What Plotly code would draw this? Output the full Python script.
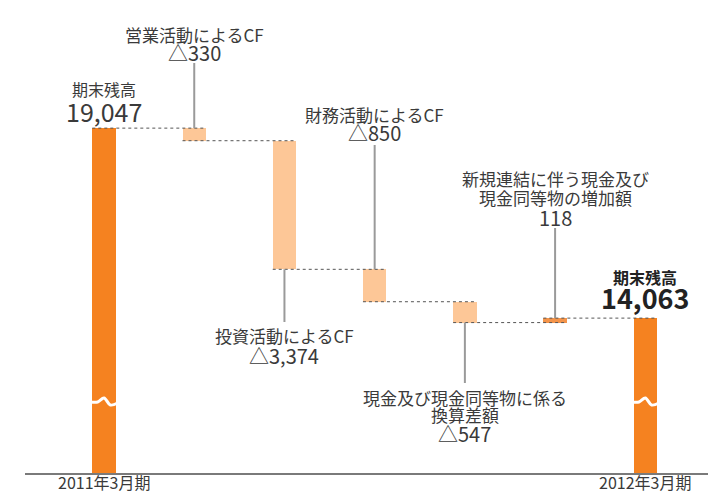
import plotly.graph_objects as go

# ---------------- data ----------------
categories = ["2011年3月期", "営業活動によるCF", "投資活動によるCF", "財務活動によるCF",
              "現金及び現金同等物に係る換算差額", "新規連結に伴う現金及び現金同等物の増加額", "2012年3月期"]
opening = 19047
changes = [-330, -3374, -850, -547, 118]
closing = 14063
change_label_lines = [
    ["営業活動によるCF"],
    ["投資活動によるCF"],
    ["財務活動によるCF"],
    ["現金及び現金同等物に係る", "換算差額"],
    ["新規連結に伴う現金及び", "現金同等物の増加額"],
]
total_title = "期末残高"
period_labels = ["2011年3月期", "2012年3月期"]

# ---------------- layout constants ----------------
W, H = 708, 493
ML, MB = 25, 20
PH = H - MB                  # plot area height in px
Y_MIN = 10000
PX_PER_UNIT = 0.03812
Y_MAX = Y_MIN + PH / PX_PER_UNIT
X_RANGE = [-0.876, 6.695]
BW = 0.26

DARK = "#F58220"
LIGHT = "#FDC797"
UP = "#F4944A"
TXT = "#3a3a3a"
FONT = "Noto Sans CJK JP"


def px_to_y(p):
    return Y_MAX - p / PH * (Y_MAX - Y_MIN)


def px_to_paper(p):
    return (PH - p) / PH


# ---------------- bars ----------------
xs = list(range(len(categories)))
bases, heights, colors = [], [], []
levels_after = []
bases.append(Y_MIN); heights.append(opening - Y_MIN); colors.append(DARK)
level = opening
levels_after.append(level)
for c in changes:
    new = level + c
    bases.append(min(level, new))
    heights.append(abs(c))
    colors.append(UP if c > 0 else LIGHT)
    level = new
    levels_after.append(level)
bases.append(Y_MIN); heights.append(closing - Y_MIN); colors.append(DARK)

fig = go.Figure()
fig.add_trace(go.Bar(x=xs, y=heights, base=bases, width=BW,
                     marker=dict(color=colors, line=dict(width=0)),
                     hoverinfo="skip", showlegend=False))

# connectors (dotted)
for i in range(len(categories) - 1):
    lv = closing if i == len(categories) - 2 else levels_after[i]
    fig.add_trace(go.Scatter(x=[xs[i] - BW / 2, xs[i + 1] + BW / 2], y=[lv, lv],
                             mode="lines", line=dict(color="#555555", width=1, dash="dot"),
                             hoverinfo="skip", showlegend=False))

# ---------------- labels for change bars ----------------
# (above?, line end px, [text centre px ...], value centre px)
label_pos = [
    (True, 63, [34], 52),
    (False, 322, [335.5], 355),
    (True, 145, [114.5], 132),
    (False, 383, [397, 414.5], 433),
    (True, 228, [179, 198], 217),
]
annotations = []
for k, c in enumerate(changes):
    i = k + 1
    above, lend, tcent, vcent = label_pos[k]
    top = bases[i] + heights[i]
    bot = bases[i]
    ys = [top, px_to_y(lend)] if above else [bot, px_to_y(lend)]
    fig.add_trace(go.Scatter(x=[xs[i], xs[i]], y=ys, mode="lines",
                             line=dict(color="#9a9a9a", width=2),
                             hoverinfo="skip", showlegend=False))
    for line, pc in zip(change_label_lines[k], tcent):
        annotations.append(dict(x=xs[i], y=px_to_paper(pc), xref="x", yref="paper",
                                text=line, showarrow=False, xanchor="center", yanchor="middle",
                                borderpad=0,
                                font=dict(family=FONT, size=17, color=TXT)))
    vtxt = ("△" if c < 0 else "") + f"{abs(c):,}"
    annotations.append(dict(x=xs[i], y=px_to_paper(vcent), xref="x", yref="paper",
                            text=vtxt, showarrow=False, xanchor="center", yanchor="middle",
                            borderpad=0,
                            font=dict(family=FONT, size=20, color=TXT)))

# totals labels
annotations.append(dict(x=xs[0], y=px_to_paper(88.7), xref="x", yref="paper", text=total_title,
                        showarrow=False, xanchor="center", yanchor="middle", borderpad=0,
                        font=dict(family=FONT, size=16, color=TXT)))
annotations.append(dict(x=xs[0], y=px_to_paper(111), xref="x", yref="paper", text=f"{opening:,}",
                        showarrow=False, xanchor="center", yanchor="middle", borderpad=0,
                        font=dict(family=FONT, size=25, color=TXT)))
annotations.append(dict(x=xs[-1], y=px_to_paper(276.5), xref="x", yref="paper",
                        text=f"<b>{total_title}</b>", borderpad=0,
                        showarrow=False, xanchor="center", yanchor="middle",
                        font=dict(family=FONT, size=16, color="#222222")))
annotations.append(dict(x=xs[-1], y=px_to_paper(297), xref="x", yref="paper",
                        text=f"<b>{closing:,}</b>", borderpad=0,
                        showarrow=False, xanchor="center", yanchor="middle",
                        font=dict(family=FONT, size=27, color="#222222")))

# period (x tick) labels
for i, lab in zip((xs[0], xs[-1]), period_labels):
    annotations.append(dict(x=i, y=px_to_paper(481.5), xref="x", yref="paper", text=lab,
                            showarrow=False, xanchor="center", yanchor="middle", borderpad=0,
                            font=dict(family=FONT, size=16, color=TXT)))

# wavy break marks on the total bars
wave_dx = [-0.15, -0.07, 0.0, 0.07, 0.15]
wave_py = [402, 402, 398, 405, 403]
for i in (xs[0], xs[-1]):
    fig.add_trace(go.Scatter(x=[i + d for d in wave_dx], y=[px_to_y(p) for p in wave_py],
                             mode="lines", line=dict(color="white", width=3, shape="spline"),
                             hoverinfo="skip", showlegend=False))

fig.update_layout(
    width=W, height=H,
    margin=dict(l=ML, r=0, t=0, b=MB, autoexpand=False),
    paper_bgcolor="white", plot_bgcolor="white",
    annotations=annotations,
    bargap=0,
    xaxis=dict(range=X_RANGE, showticklabels=False, automargin=False,
               showgrid=False, zeroline=False, showline=True, linecolor="#7a7a7a", linewidth=2,
               ticks="", fixedrange=True),
    yaxis=dict(range=[Y_MIN, Y_MAX], visible=False, showgrid=False, zeroline=False,
               automargin=False, fixedrange=True),
    font=dict(family=FONT),
)

fig.write_html("out.html")
